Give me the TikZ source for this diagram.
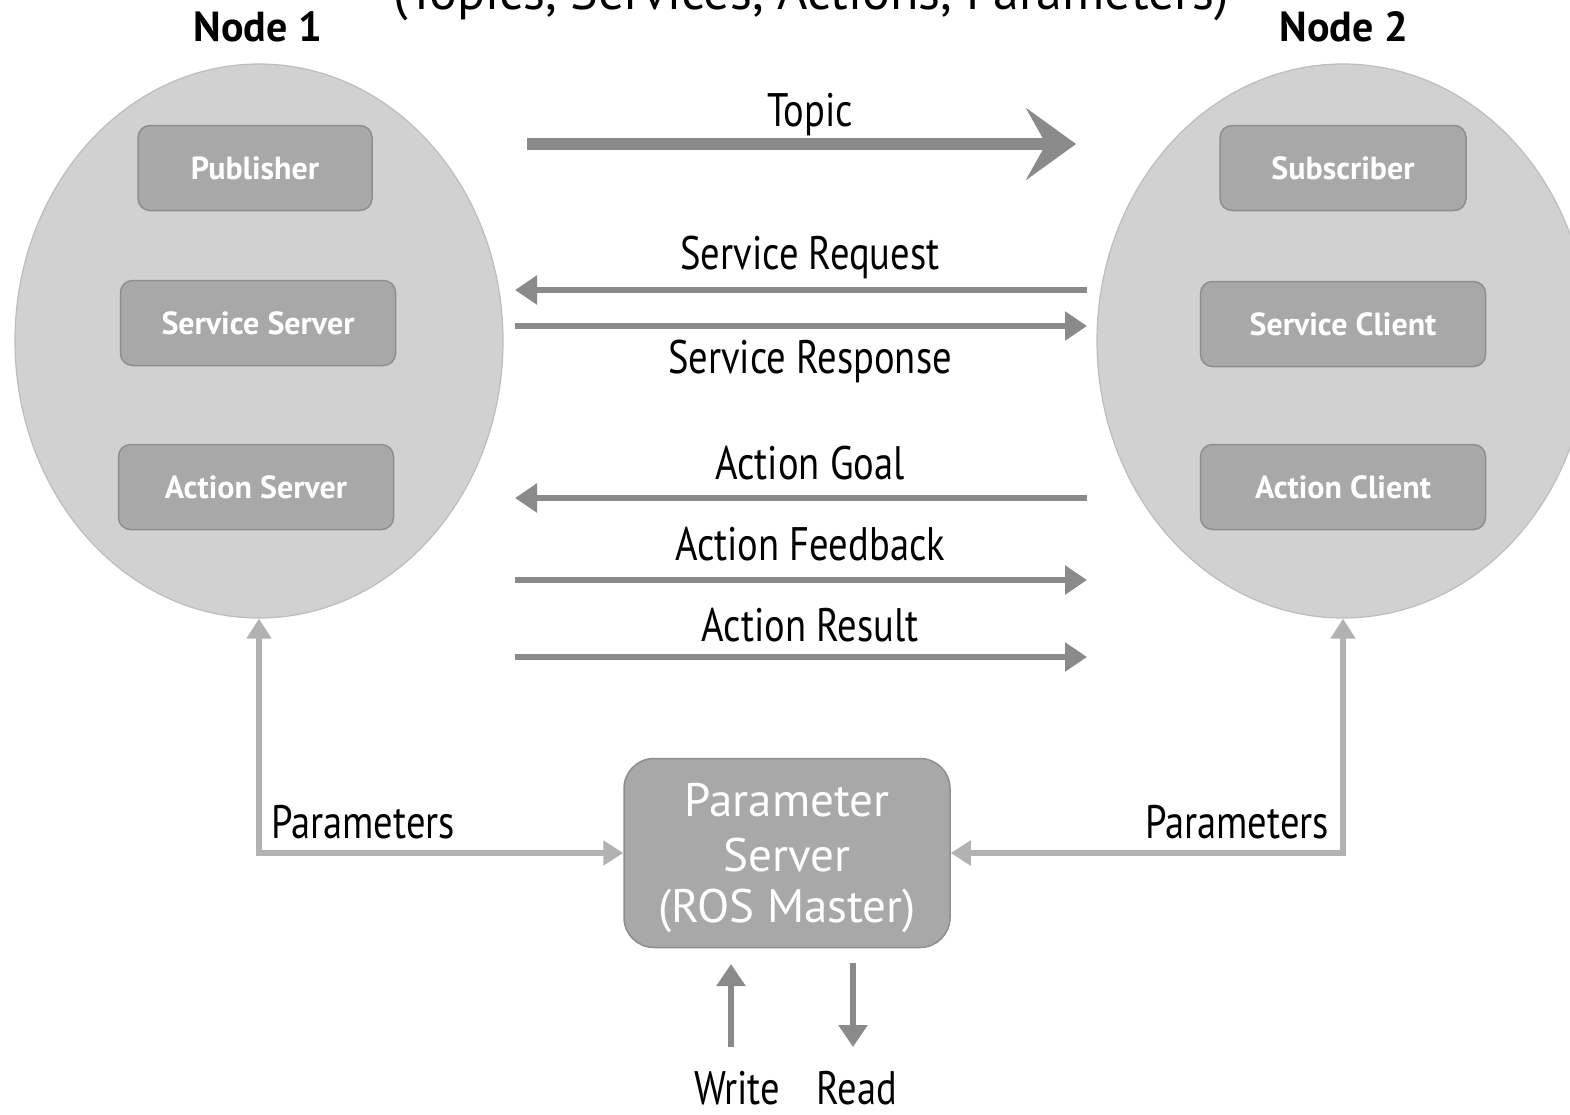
\documentclass[tikz,border=0pt]{standalone}
\usepackage{fontspec}
\setmainfont{PT Sans}[FakeStretch=0.82]
\newfontfamily\widefont{PT Sans}
\usetikzlibrary{arrows.meta,shapes.geometric}
\definecolor{ellfill}{HTML}{D1D1D1}
\definecolor{elldraw}{HTML}{BDBDBD}
\definecolor{boxfill}{HTML}{A8A8A8}
\definecolor{boxdraw}{HTML}{8E8E8E}
\definecolor{arrcol}{HTML}{8A8A8A}
\definecolor{parcol}{HTML}{B2B2B2}
\begin{document}
\begin{tikzpicture}[x=1pt,y=-1pt,
  ell/.style={ellipse, fill=ellfill, draw=elldraw, line width=1.2pt, inner sep=0pt},
  bx/.style={rectangle, rounded corners=12pt, fill=boxfill, draw=boxdraw, line width=1.5pt,
    text=white, font=\widefont\fontsize{32}{38}\selectfont\bfseries, minimum height=85pt},
  psbox/.style={rectangle, rounded corners=30pt, fill=boxfill, draw=boxdraw, line width=1.5pt,
    minimum width=326pt, minimum height=189pt},
  pstext/.style={inner sep=0pt, text=white, font=\widefont\fontsize{47}{56}\selectfont},
  lbl/.style={font=\fontsize{47}{56}\selectfont, inner sep=0pt},
  ttl/.style={font=\widefont\fontsize{42}{50}\selectfont\bfseries, inner sep=0pt},
  thin/.style={draw=arrcol, line width=6pt, -{Triangle[length=22pt,width=28pt]}},
  topicarr/.style={draw=arrcol, line width=12pt, -{Stealth[length=50pt,width=72pt,inset=20pt]}},
  pararr/.style={draw=parcol, line width=6pt, {Triangle[length=20pt,width=24pt]}-{Triangle[length=20pt,width=24pt]}}
]
\useasboundingbox (0,0) rectangle (1570,1114);
\fill[white] (0,0) rectangle (1570,1114);

% top cut-off caption
\node[inner sep=0pt, anchor=base, font=\widefont\fontsize{52}{60}\selectfont] (cap) at (811,9) {(Topics, Services, Actions, Parameters)};
\node[ttl] (t1) at (258,27) {Node 1};
\node[ttl] (t2) at (1344,27) {Node 2};

% ellipses
\node[ell, minimum width=488pt, minimum height=554pt] (n1) at (259,341) {};
\node[ell, minimum width=492pt, minimum height=554pt] (n2) at (1343,341) {};

% boxes
\node[bx, minimum width=234pt] (pub) at (255,168) {Publisher};
\node[bx, minimum width=275pt] (ss) at (258,323) {Service Server};
\node[bx, minimum width=275pt] (as) at (256,487) {Action Server};
\node[bx, minimum width=246pt] (sub) at (1343,168) {Subscriber};
\node[bx, minimum width=285pt] (sc) at (1343,324) {Service Client};
\node[bx, minimum width=285pt] (ac) at (1343,487) {Action Client};

% arrow end points
\coordinate (topL) at (527,144);
\coordinate (topR) at (1076,144);
\coordinate (sreqR) at (1087,290);
\coordinate (sreqL) at (515,290);
\coordinate (sresL) at (515,326);
\coordinate (sresR) at (1087,326);
\coordinate (agR) at (1087,498);
\coordinate (agL) at (515,498);
\coordinate (afL) at (515,580);
\coordinate (afR) at (1087,580);
\coordinate (arL) at (515,657);
\coordinate (arR) at (1087,657);

\draw[topicarr] (topL) -- (topR);
\draw[thin] (sreqR) -- (sreqL);
\draw[thin] (sresL) -- (sresR);
\draw[thin] (agR) -- (agL);
\draw[thin] (afL) -- (afR);
\draw[thin] (arL) -- (arR);

\node[lbl] (lt) at (810,115) {Topic};
\node[lbl] (lsq) at (810,257) {Service Request};
\node[lbl] (lsr) at (810,361) {Service Response};
\node[lbl] (lag) at (810,463) {Action Goal};
\node[lbl] (laf) at (810,544) {Action Feedback};
\node[lbl] (lar) at (810,625) {Action Result};

% parameter server
\node[psbox] (ps) at (787,853) {};
\node[pstext] (ps1) at (787,800) {Parameter};
\node[pstext] (ps2) at (787,855) {Server};
\node[pstext] (ps3) at (787,911) {(ROS Master)};

\draw[pararr] (n1.south) |- (ps.west);
\draw[pararr] (n2.south) |- (ps.east);
\node[lbl] (lp1) at (363,822) {Parameters};
\node[lbl] (lp2) at (1237,822) {Parameters};

% write / read
\coordinate (wB) at (731,1047);
\coordinate (wT) at (731,964);
\coordinate (rT) at (853,963);
\coordinate (rB) at (853,1047);
\draw[thin] (wB) -- (wT);
\draw[thin] (rT) -- (rB);
\node[lbl, anchor=base] (lw) at (737,1104) {Write};
\node[lbl, anchor=base] (lr) at (857,1104) {Read};
\end{tikzpicture}
\end{document}
